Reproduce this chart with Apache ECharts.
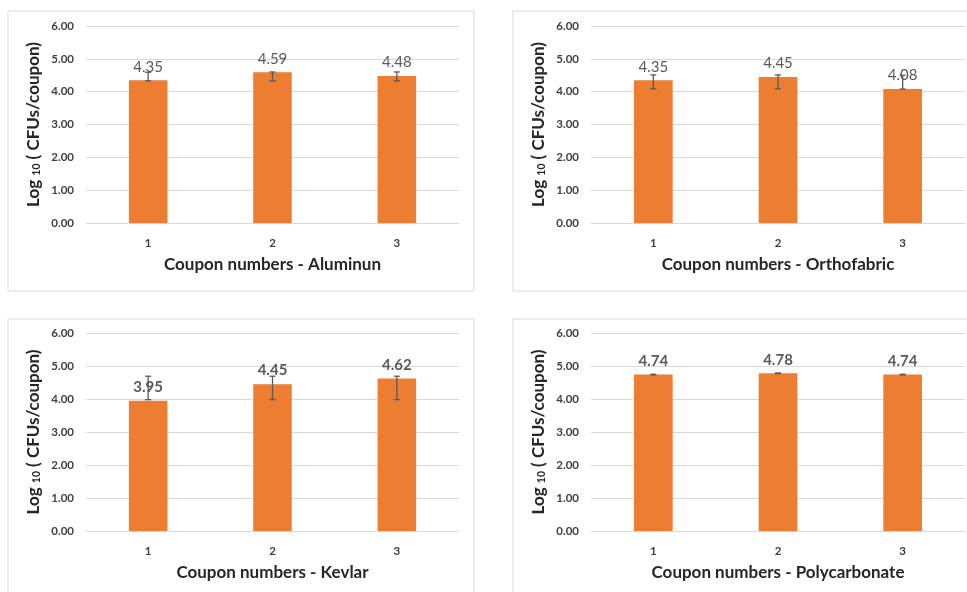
<!DOCTYPE html>
<html><head><meta charset="utf-8">
<script src="https://cdn.jsdelivr.net/npm/echarts@6/dist/echarts.min.js"></script>
<style>html,body{margin:0;padding:0;background:#fff}#c{width:967px;height:592px}</style>
</head><body><div id="c"></div>
<script>
const categories = ['1', '2', '3'];
const yTicks = [0, 1, 2, 3, 4, 5, 6];
const panelNames = ['Coupon numbers - Aluminun', 'Coupon numbers - Orthofabric', 'Coupon numbers - Kevlar', 'Coupon numbers - Polycarbonate'];
const aluminum = [4.35, 4.59, 4.48];
const aluminumLow = [4.33, 4.33, 4.33];
const aluminumHigh = [4.59, 4.60, 4.60];
const orthofabric = [4.35, 4.45, 4.08];
const orthofabricLow = [4.09, 4.09, 4.08];
const orthofabricHigh = [4.51, 4.51, 4.50];
const kevlar = [3.95, 4.45, 4.62];
const kevlarLow = [3.98, 3.98, 3.98];
const kevlarHigh = [4.69, 4.69, 4.69];
const polycarbonate = [4.74, 4.78, 4.74];
const polycarbonateLow = [4.73, 4.77, 4.73];
const polycarbonateHigh = [4.75, 4.79, 4.75];

const values = [aluminum, orthofabric, kevlar, polycarbonate];
const lows = [aluminumLow, orthofabricLow, kevlarLow, polycarbonateLow];
const highs = [aluminumHigh, orthofabricHigh, kevlarHigh, polycarbonateHigh];

const FONT = 'Lato';
const grids = [
  {left: 86, top: 26, width: 373, height: 197},
  {left: 591, top: 26, width: 374, height: 197},
  {left: 86, top: 333, width: 373, height: 198},
  {left: 591, top: 333, width: 374, height: 198}
];
const panels = [
  {x: 8, y: 11, w: 466, h: 280},
  {x: 513, y: 11, w: 470, h: 280},
  {x: 8, y: 319, w: 466, h: 290},
  {x: 513, y: 319, w: 470, h: 290}
];

const xAxes = [], yAxes = [], series = [];
for (let i = 0; i < 4; i++) {
  xAxes.push({
    type: 'category', gridIndex: i, data: categories,
    axisLine: {lineStyle: {color: '#d9d9d9', width: 1}},
    axisTick: {show: false},
    axisLabel: {color: '#404040', fontFamily: FONT, fontWeight: 'bold', fontSize: 11.5, margin: 14},
    name: panelNames[i], nameLocation: 'middle', nameGap: 33,
    nameTextStyle: {color: '#262626', fontFamily: FONT, fontWeight: 'bold', fontSize: 17}
  });
  yAxes.push({
    type: 'value', gridIndex: i, min: yTicks[0], max: yTicks[yTicks.length - 1], interval: 1,
    axisLine: {show: false}, axisTick: {show: false},
    splitLine: {lineStyle: {color: '#d9d9d9', width: 1}},
    axisLabel: {color: '#404040', fontFamily: FONT, fontWeight: 'bold', fontSize: 11.5, margin: 12,
      formatter: v => v.toFixed(2)},
    name: '{a|Log }{s|10}{a| ( CFUs/coupon)}', nameLocation: 'middle', nameRotate: 90, nameGap: 44,
    nameTextStyle: {rich: {
      a: {color: '#262626', fontFamily: FONT, fontWeight: 'bold', fontSize: 17},
      s: {color: '#262626', fontFamily: FONT, fontWeight: 'bold', fontSize: 10.5, padding: [6, 0, 0, 0]}
    }}
  });
  series.push({
    type: 'bar', xAxisIndex: i, yAxisIndex: i, data: values[i], barWidth: '31%',
    itemStyle: {color: '#ED7D31'},
    label: {show: true, position: 'top', distance: 6, color: '#595959', fontFamily: FONT,
      fontSize: 15, fontWeight: i < 2 ? 'normal' : 'bold', formatter: p => p.value.toFixed(2)},
    z: 2
  });
  series.push({
    type: 'custom', xAxisIndex: i, yAxisIndex: i, z: 5,
    data: categories.map((c, k) => [k, lows[i][k], highs[i][k]]),
    renderItem: function (params, api) {
      const lo = api.coord([api.value(0), api.value(1)]);
      const hi = api.coord([api.value(0), api.value(2)]);
      const hw = 3;
      const st = {stroke: '#595959', lineWidth: 1.3};
      return {type: 'group', children: [
        {type: 'line', shape: {x1: hi[0], y1: hi[1], x2: lo[0], y2: lo[1]}, style: st},
        {type: 'line', shape: {x1: hi[0] - hw, y1: hi[1], x2: hi[0] + hw, y2: hi[1]}, style: st},
        {type: 'line', shape: {x1: lo[0] - hw, y1: lo[1], x2: lo[0] + hw, y2: lo[1]}, style: st}
      ]};
    }
  });
}

const chart = echarts.init(document.getElementById('c'), null, {renderer: 'canvas'});
chart.setOption({
  animation: false,
  backgroundColor: '#fff',
  graphic: panels.map(p => ({type: 'rect', shape: {x: p.x, y: p.y, width: p.w, height: p.h},
    style: {fill: 'none', stroke: '#d9d9d9', lineWidth: 1}, z: -1})),
  grid: grids,
  xAxis: xAxes,
  yAxis: yAxes,
  series: series
});
</script></body></html>
